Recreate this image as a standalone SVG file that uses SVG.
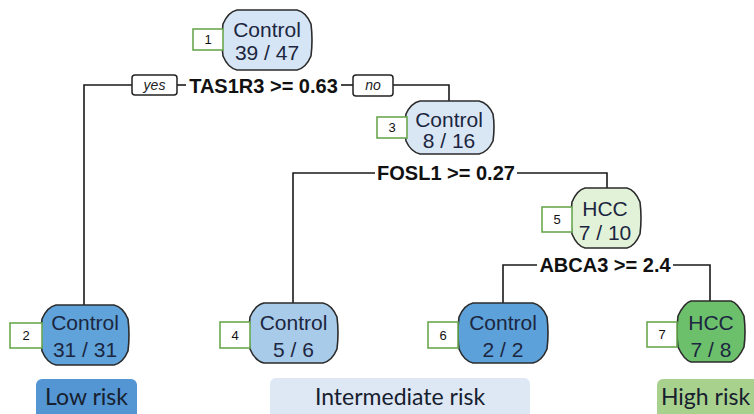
<svg xmlns="http://www.w3.org/2000/svg" width="754" height="414" viewBox="0 0 754 414">
<style>
  .node { stroke: #2b2b2b; stroke-width: 1.6; }
  .ntext { font-family: "Liberation Sans", Arial, sans-serif; font-size: 21px; fill: #1c2640; text-anchor: middle; }
  .numbox { fill: #ffffff; stroke: #6aa84f; stroke-width: 1.6; }
  .num { font-family: "Liberation Sans", Arial, sans-serif; font-size: 13px; fill: #111; text-anchor: middle; }
  .split { font-family: "Liberation Sans", Arial, sans-serif; font-size: 20px; font-weight: bold; fill: #111; text-anchor: middle; }
  .lbox { fill: #ffffff; stroke: #222; stroke-width: 1.5; }
  .ltext { font-family: "Liberation Sans", Arial, sans-serif; font-size: 14px; font-style: italic; fill: #222; text-anchor: middle; }
  .conn { fill: none; stroke: #1a1a1a; stroke-width: 1.6; }
  .risk { font-family: Lato, "Open Sans", sans-serif; font-size: 23px; fill: #17202e; text-anchor: middle; }
</style>
<rect width="754" height="414" fill="#ffffff"/>

<g id="connectors">
  <path class="conn" d="M84 305 V85 H132"/>
  <path class="conn" d="M177 85 H186"/>
  <path class="conn" d="M341 85 H353"/>
  <path class="conn" d="M393 85 H449 V101"/>
  <path class="conn" d="M293 303 V173 H375"/>
  <path class="conn" d="M517 173 H607 V188"/>
  <path class="conn" d="M503 303 V265 H537"/>
  <path class="conn" d="M673 265 H710 V301"/>
</g>

<g id="split1">
  <rect class="lbox" x="132" y="75" width="45" height="20" rx="3"/>
  <text class="ltext" x="154.5" y="90">yes</text>
  <text class="split" x="263.5" y="93">TAS1R3 &gt;= 0.63</text>
  <rect class="lbox" x="353" y="75" width="40" height="21" rx="3"/>
  <text class="ltext" x="373" y="90">no</text>
</g>
<g id="split3">
  <text class="split" x="446" y="180">FOSL1 &gt;= 0.27</text>
</g>
<g id="split5">
  <text class="split" x="605" y="272">ABCA3 &gt;= 2.4</text>
</g>

<g id="node1">
  <path class="node" fill="#d5e5f5" d="M237 10 H297 Q306 12 311 24 Q313 40 311 56 Q306 68 297 70 H237 Q228 68 223 56 Q221 40 223 24 Q228 12 237 10 Z"/>
  <text class="ntext" x="267" y="37">Control</text>
  <text class="ntext" x="267" y="60">39 / 47</text>
  <rect class="numbox" x="193" y="29" width="30" height="21"/>
  <text class="num" x="208" y="44">1</text>
</g>

<g id="node3">
  <path class="node" fill="#d9e7f5" d="M420 101 H479 Q488 103 493 114 Q495 127 493 141 Q488 152 479 154 H420 Q411 152 406 141 Q404 127 406 114 Q411 103 420 101 Z"/>
  <text class="ntext" x="449" y="127">Control</text>
  <text class="ntext" x="449" y="148">8 / 16</text>
  <rect class="numbox" x="377" y="117" width="30" height="21"/>
  <text class="num" x="392" y="132">3</text>
</g>

<g id="node5">
  <path class="node" fill="#e2f2d8" d="M585 188 H627 Q635 190 640 202 Q642 218 640 234 Q635 246 627 248 H585 Q577 246 572 234 Q570 218 572 202 Q577 190 585 188 Z"/>
  <text class="ntext" x="605" y="216">HCC</text>
  <text class="ntext" x="605" y="240">7 / 10</text>
  <rect class="numbox" x="542" y="207" width="30" height="25"/>
  <text class="num" x="557" y="224">5</text>
</g>

<g id="node2">
  <path class="node" fill="#5fa3da" d="M56 305 H114 Q123 307 128 319 Q130 335 128 351 Q123 363 114 365 H56 Q47 363 42 351 Q40 335 42 319 Q47 307 56 305 Z"/>
  <text class="ntext" x="85" y="330">Control</text>
  <text class="ntext" x="85" y="357">31 / 31</text>
  <rect class="numbox" x="10" y="323" width="32" height="25"/>
  <text class="num" x="26" y="340">2</text>
</g>

<g id="node4">
  <path class="node" fill="#a9cbea" d="M264 303 H323 Q332 305 337 317 Q339 333 337 349 Q332 361 323 363 H264 Q255 361 250 349 Q248 333 250 317 Q255 305 264 303 Z"/>
  <text class="ntext" x="293.5" y="330">Control</text>
  <text class="ntext" x="293.5" y="357">5 / 6</text>
  <rect class="numbox" x="220" y="322" width="30" height="26"/>
  <text class="num" x="235" y="340">4</text>
</g>

<g id="node6">
  <path class="node" fill="#5ca1d9" d="M473 303 H533 Q542 305 547 317 Q549 333 547 349 Q542 361 533 363 H473 Q464 361 459 349 Q457 333 459 317 Q464 305 473 303 Z"/>
  <text class="ntext" x="503" y="330">Control</text>
  <text class="ntext" x="503" y="357">2 / 2</text>
  <rect class="numbox" x="428" y="322" width="30" height="26"/>
  <text class="num" x="443" y="340">6</text>
</g>

<g id="node7">
  <path class="node" fill="#6cc06c" d="M691 301 H731 Q738 303 744 316 Q746 332 744 347 Q738 360 731 362 H691 Q684 360 678 347 Q676 332 678 316 Q684 303 691 301 Z"/>
  <text class="ntext" x="711" y="330">HCC</text>
  <text class="ntext" x="711" y="357">7 / 8</text>
  <rect class="numbox" x="647" y="322" width="30" height="25"/>
  <text class="num" x="662" y="339">7</text>
</g>

<g id="risk-low">
  <rect x="36" y="379" width="101" height="40" rx="6" fill="#5396d3"/>
  <text class="risk" x="86.5" y="405">Low risk</text>
</g>
<g id="risk-intermediate">
  <rect x="270" y="378" width="260" height="41" rx="6" fill="#dee8f4"/>
  <text class="risk" x="400" y="405">Intermediate risk</text>
</g>
<g id="risk-high">
  <rect x="657" y="379" width="102" height="40" rx="6" fill="#a9d18e"/>
  <text class="risk" x="705.5" y="405">High risk</text>
</g>
</svg>
